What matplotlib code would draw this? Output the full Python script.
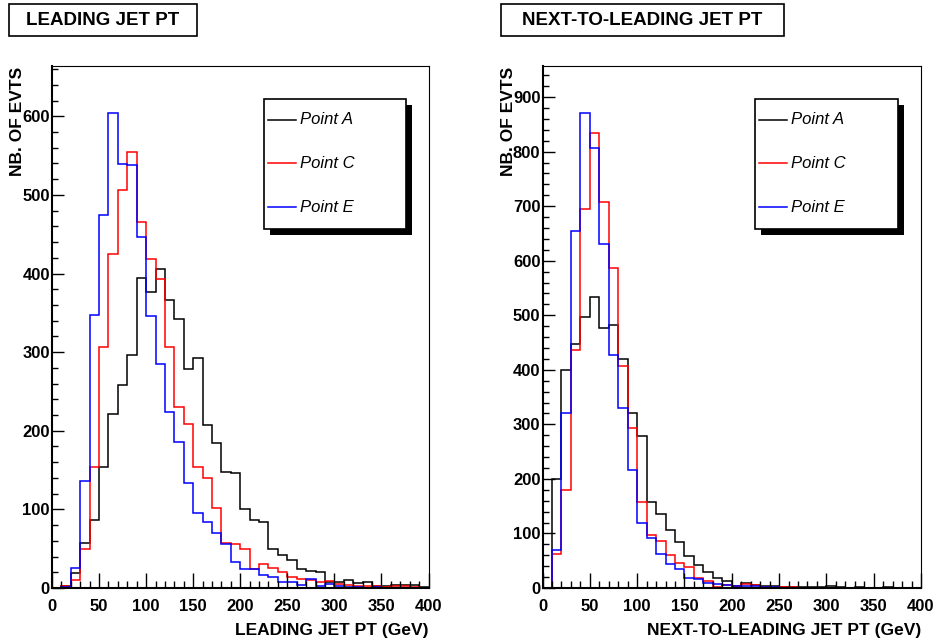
import numpy as np
import matplotlib
matplotlib.use("Agg")
import matplotlib.pyplot as plt
from matplotlib.patches import Rectangle
from matplotlib.lines import Line2D
from matplotlib.ticker import MultipleLocator

# bins of 10 GeV from 0 to 400
edges = np.arange(0, 401, 10)

# leading jet pt, counts per bin
lead_a = [0, 2, 19, 57, 86, 154, 221, 258, 297, 394,
          377, 406, 366, 342, 279, 292, 207, 185, 148, 146,
          100, 86, 84, 50, 42, 36, 24, 22, 20, 8,
          8, 10, 6, 7, 3, 2, 4, 4, 4, 1]
lead_c = [0, 3, 10, 50, 154, 306, 425, 506, 555, 465,
          419, 393, 306, 230, 208, 154, 140, 102, 57, 56,
          50, 24, 31, 25, 20, 14, 11, 10, 7, 9,
          5, 4, 2, 3, 2, 1, 2, 3, 1, 0]
lead_e = [0, 1, 25, 136, 347, 474, 604, 539, 538, 446,
          346, 285, 224, 186, 133, 96, 84, 70, 56, 33,
          24, 24, 17, 14, 8, 7, 4, 11, 2, 5,
          3, 1, 1, 0, 1, 0, 0, 0, 0, 0]

# next-to-leading jet pt
sub_a = [0, 200, 400, 447, 497, 534, 476, 483, 420, 321,
         279, 158, 136, 106, 85, 58, 43, 30, 19, 12,
         4, 9, 6, 4, 3, 2, 1, 1, 2, 1,
         3, 1, 0, 1, 0, 0, 1, 0, 0, 0]
sub_c = [0, 63, 179, 436, 695, 834, 707, 586, 407, 293,
         157, 97, 86, 61, 45, 39, 19, 13, 2, 5,
         3, 7, 5, 2, 1, 2, 1, 0, 0, 0,
         0, 0, 0, 0, 0, 0, 0, 0, 0, 0]
sub_e = [0, 69, 321, 654, 871, 807, 631, 428, 330, 216,
         120, 92, 63, 44, 34, 18, 16, 9, 7, 5,
         4, 3, 3, 2, 1, 0, 0, 0, 0, 0,
         0, 0, 0, 0, 0, 0, 0, 0, 0, 0]

labels = ["Point A", "Point C", "Point E"]
colors = ["black", "red", "blue"]

W, H = 937, 643

def fx(x):
    return x / W

def fy(y):
    return 1 - y / H

plt.rcParams["font.family"] = ["Liberation Sans", "DejaVu Sans"]
plt.rcParams["font.weight"] = "bold"

fig = plt.figure(figsize=(9.37, 6.43), dpi=100)

panels = [
    # (data, title, xlabel, ymax, frame x0, x1, title box, legend box)
    ((lead_a, lead_c, lead_e), "LEADING JET PT", "LEADING JET PT (GeV)", 664,
     52, 428.5, (9, 197), (264, 406)),
    ((sub_a, sub_c, sub_e), "NEXT-TO-LEADING JET PT", "NEXT-TO-LEADING JET PT (GeV)", 957,
     542.5, 921, (501, 784), (755, 898)),
]

for series, title, xlab, ymax, x0, x1, tbox, lbox in panels:
    ax = fig.add_axes([fx(x0), fy(588), (x1 - x0) / W, (588 - 66) / H])
    for vals, col in zip(series, colors):
        ax.stairs(vals, edges, color=col, linewidth=1.1)
    ax.set_xlim(0, 400)
    ax.set_ylim(0, ymax)
    ax.xaxis.set_major_locator(MultipleLocator(50))
    ax.xaxis.set_minor_locator(MultipleLocator(10))
    ax.yaxis.set_major_locator(MultipleLocator(100))
    ax.yaxis.set_minor_locator(MultipleLocator(20))
    ax.tick_params(which="both", direction="in", top=False, right=False,
                   width=1, labelsize=12)
    ax.tick_params(axis="x", which="major", length=10.5, pad=8)
    ax.tick_params(axis="x", which="minor", length=5.3)
    ax.tick_params(axis="y", which="major", length=8.6, pad=1.5)
    ax.tick_params(axis="y", which="minor", length=4.3)
    ax.spines["left"].set_linewidth(1.5)
    ax.spines["bottom"].set_linewidth(1.5)
    ax.spines["top"].set_linewidth(0.8)
    ax.spines["right"].set_linewidth(0.8)

    # axis titles, ROOT style at the axis ends
    fig.text(fx(x1), fy(630), xlab, ha="right", va="center", fontsize=12.5)
    fig.text(fx(x0 - 34), fy(67), "NB. OF EVTS", rotation=90,
             ha="center", va="top", fontsize=12.5)

    # title box
    fig.add_artist(Rectangle((fx(tbox[0]), fy(36)), (tbox[1] - tbox[0]) / W, 32 / H,
                             transform=fig.transFigure, facecolor="white",
                             edgecolor="black", linewidth=1.2))
    fig.text(fx((tbox[0] + tbox[1]) / 2), fy(20.5), title,
             ha="center", va="center", fontsize=13.5)

    # legend with black shadow
    lx0, lx1 = lbox
    fig.add_artist(Rectangle((fx(lx0 + 6), fy(235.3)), (lx1 - lx0) / W, 130.6 / H,
                             transform=fig.transFigure, facecolor="black",
                             edgecolor="black", linewidth=0))
    fig.add_artist(Rectangle((fx(lx0), fy(229.3)), (lx1 - lx0) / W, 130.6 / H,
                             transform=fig.transFigure, facecolor="white",
                             edgecolor="black", linewidth=1.2))
    for yy, lab, col in zip([120, 163.5, 207], labels, colors):
        fig.add_artist(Line2D([fx(lx0 + 4), fx(lx0 + 32)], [fy(yy), fy(yy)],
                              transform=fig.transFigure, color=col, linewidth=1.1))
        fig.text(fx(lx0 + 36), fy(yy), lab, ha="left", va="center",
                 fontsize=12, style="italic", weight="normal")

fig.savefig("out.png", dpi=100)
